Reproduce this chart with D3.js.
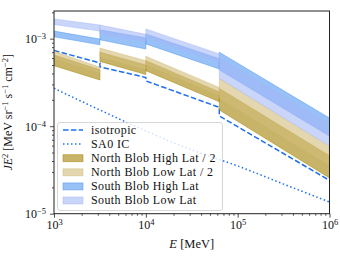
<!DOCTYPE html>
<html>
<head>
<meta charset="utf-8">
<script src="https://cdn.jsdelivr.net/npm/d3@7"></script>
<style>
body { margin: 0; background: #fff; }
svg text { font-family: "Liberation Serif", "DejaVu Serif", serif; fill: #111; }
</style>
</head>
<body>
<div id="chart"></div>
<script>
// energy bins [MeV]
var binLo = [1000, 3162, 10000, 63096];
var binHi = [3162, 10000, 63096, 1000000];

// band bounds per bin: [flux at bin start, flux at bin end]
var northHighUpper = [[6.5e-4, 4.4e-4], [7.0e-4, 5.0e-4], [5.6e-4, 2.46e-4], [2.7e-4, 4.6e-5]];
var northHighLower = [[4.9e-4, 3.37e-4], [5.5e-4, 3.9e-4], [4.3e-4, 1.9e-4], [1.53e-4, 2.56e-5]];
var northLowUpper = [[7.2e-4, 4.7e-4], [7.8e-4, 5.6e-4], [6.3e-4, 2.77e-4], [3.5e-4, 5.86e-5]];
var northLowLower = [[6.0e-4, 4.1e-4], [6.3e-4, 4.5e-4], [5.1e-4, 2.27e-4], [2.1e-4, 3.6e-5]];
var southHighUpper = [[1.22e-3, 9.9e-4], [1.26e-3, 1.02e-3], [1.13e-3, 5.9e-4], [7.0e-4, 1.24e-4]];
var southHighLower = [[1.05e-3, 8.5e-4], [9.7e-4, 7.6e-4], [8.7e-4, 4.5e-4], [4.4e-4, 7.7e-5]];
var southLowUpper = [[1.68e-3, 1.43e-3], [1.43e-3, 1.12e-3], [1.29e-3, 6.7e-4], [6.0e-4, 1.06e-4]];
var southLowLower = [[1.45e-3, 1.22e-3], [1.13e-3, 9.3e-4], [1.02e-3, 5.4e-4], [3.53e-4, 5.94e-5]];

// lines
var isoE = [1000, 3162, 3162, 10000, 10000, 63096, 63096, 1000000];
var isoFlux = [7.33e-4, 5.28e-4, 4.75e-4, 3.60e-4, 3.29e-4, 1.64e-4, 1.31e-4, 2.40e-5];
var sa0E = [1000, 3162, 10000, 31623, 100000, 316228, 1000000];
var sa0Flux = [2.71e-4, 1.53e-4, 8.81e-5, 5.35e-5, 3.51e-5, 2.18e-5, 1.36e-5];

var xTicks = [1e3, 1e4, 1e5, 1e6];
var yTicks = [1e-5, 1e-4, 1e-3];

var W = 340, H = 262;
var plot = { left: 54, right: 329.5, top: 11, bottom: 213.7 };
var serif = "Liberation Serif, DejaVu Serif, serif";

var svg = d3.select("#chart").append("svg")
    .attr("width", W)
    .attr("height", H)
    .attr("font-family", serif);

var x = d3.scaleLog().domain([1e3, 1e6]).range([plot.left, plot.right]);
var y = d3.scaleLog().domain([1e-5, 2.07e-3]).range([plot.bottom, plot.top]);

svg.append("clipPath").attr("id", "clip")
    .append("rect")
    .attr("x", plot.left).attr("y", plot.top)
    .attr("width", plot.right - plot.left)
    .attr("height", plot.bottom - plot.top);

var g = svg.append("g").attr("clip-path", "url(#clip)");

var bands = [
    { name: "North Blob High Lat / 2", up: northHighUpper, lo: northHighLower, color: "#a38205", op: 0.6 },
    { name: "North Blob Low Lat / 2", up: northLowUpper, lo: northLowLower, color: "#d2bc7a", op: 0.6 },
    { name: "South Blob High Lat", up: southHighUpper, lo: southHighLower, color: "#3a88f0", op: 0.52 },
    { name: "South Blob Low Lat", up: southLowUpper, lo: southLowLower, color: "#a3b7f7", op: 0.58 }
];

var poly = d3.line().x(d => x(d[0])).y(d => y(d[1]));

var lineColor = "#1e6ff0";

var line = d3.line().x(d => x(d[0])).y(d => y(d[1]));
var isoPts = isoE.map((e, i) => [e, isoFlux[i]]);
var sa0Pts = sa0E.map((e, i) => [e, sa0Flux[i]]);

g.append("path")
    .attr("d", line(isoPts))
    .attr("fill", "none")
    .attr("stroke", lineColor)
    .attr("stroke-width", 1.5)
    .attr("stroke-dasharray", "5.5,2.4");

g.append("path")
    .attr("d", line.curve(d3.curveMonotoneX)(sa0Pts))
    .attr("fill", "none")
    .attr("stroke", lineColor)
    .attr("stroke-width", 1.5)
    .attr("stroke-dasharray", "1.5,2.5");

bands.forEach(function (b) {
    binLo.forEach(function (e0, i) {
        var e1 = binHi[i];
        var pts = [[e0, b.up[i][0]], [e1, b.up[i][1]], [e1, b.lo[i][1]], [e0, b.lo[i][0]]];
        g.append("path")
            .attr("d", poly(pts) + "Z")
            .attr("fill", b.color)
            .attr("fill-opacity", b.op)
            .attr("stroke", b.color)
            .attr("stroke-opacity", b.op)
            .attr("stroke-width", 0.8);
    });
});

// axes
function supLabel(sel, exp) {
    sel.text(null);
    sel.append("tspan").text("10");
    sel.append("tspan").attr("dy", "-4").attr("font-size", "8.5px").text(exp);
}

function minorTicks(lo, hi) {
    var out = [];
    for (var p = lo; p < hi; p++) {
        for (var m = 2; m <= 9; m++) out.push(m * Math.pow(10, p));
    }
    return out;
}

var xMinor = minorTicks(3, 6);
var yMinor = minorTicks(-5, -2).filter(v => v <= 2.07e-3);

svg.append("g")
    .attr("transform", "translate(0," + plot.bottom + ")")
    .call(d3.axisBottom(x).tickValues(xMinor).tickSize(2).tickFormat(""))
    .call(a => a.select(".domain").remove());

svg.append("g")
    .attr("transform", "translate(" + plot.left + ",0)")
    .call(d3.axisLeft(y).tickValues(yMinor).tickSize(2).tickFormat(""))
    .call(a => a.select(".domain").remove());

var xAx = svg.append("g")
    .attr("transform", "translate(0," + plot.bottom + ")")
    .call(d3.axisBottom(x).tickValues(xTicks).tickSize(4).tickPadding(3));
xAx.select(".domain").remove();
xAx.attr("font-family", serif);
xAx.selectAll("text")
    .attr("font-size", "12px")
    .each(function (d) { supLabel(d3.select(this), String(Math.round(Math.log10(d)))); });

var yAx = svg.append("g")
    .attr("transform", "translate(" + plot.left + ",0)")
    .call(d3.axisLeft(y).tickValues(yTicks).tickSize(4).tickPadding(4));
yAx.select(".domain").remove();
yAx.attr("font-family", serif);
yAx.selectAll("text")
    .attr("font-size", "12px")
    .each(function (d) { supLabel(d3.select(this), "\u2212" + Math.round(-Math.log10(d))); });

svg.selectAll(".tick line").attr("stroke", "#222").attr("stroke-width", 0.8);

// frame
svg.append("rect")
    .attr("x", plot.left).attr("y", plot.top)
    .attr("width", plot.right - plot.left)
    .attr("height", plot.bottom - plot.top)
    .attr("fill", "none")
    .attr("stroke", "#222")
    .attr("stroke-width", 1);

// axis titles
svg.append("text")
    .attr("x", (plot.left + plot.right) / 2)
    .attr("y", 248)
    .attr("text-anchor", "middle")
    .attr("font-size", "12.5px")
    .call(t => {
        t.append("tspan").attr("font-style", "italic").text("E");
        t.append("tspan").text(" [MeV]");
    });

var yl = svg.append("text")
    .attr("transform", "translate(12," + ((plot.top + plot.bottom) / 2) + ") rotate(-90)")
    .attr("text-anchor", "middle")
    .attr("font-size", "12px");
[["JE", 0, true], ["2", 1], [" [MeV sr", 0], ["\u22121", 1], [" s", 0], ["\u22121", 1], [" cm", 0], ["\u22122", 1], ["]", 0]]
    .forEach(function (s, i, arr) {
        var prevSup = i > 0 && arr[i - 1][1] === 1;
        var ts = yl.append("tspan").text(s[0]);
        if (s[2]) ts.attr("font-style", "italic");
        if (s[1] === 1) ts.attr("dy", -4).attr("font-size", "8.5px");
        else if (prevSup) ts.attr("dy", 4);
    });

// legend
var leg = svg.append("g");
leg.append("rect")
    .attr("x", 57.5).attr("y", 122.5)
    .attr("width", 165).attr("height", 88)
    .attr("rx", 2.5)
    .attr("fill", "#fff").attr("fill-opacity", 0.8)
    .attr("stroke", "#ccc").attr("stroke-width", 0.8);

var rowY = d3.range(6).map(i => 130 + i * 14.1);
var hx0 = 63, hx1 = 83, tx = 91;

leg.append("line").attr("x1", hx0).attr("x2", hx1).attr("y1", rowY[0]).attr("y2", rowY[0])
    .attr("stroke", lineColor).attr("stroke-width", 1.5).attr("stroke-dasharray", "5.5,2.4");
leg.append("line").attr("x1", hx0).attr("x2", hx1).attr("y1", rowY[1]).attr("y2", rowY[1])
    .attr("stroke", lineColor).attr("stroke-width", 1.5).attr("stroke-dasharray", "1.5,2.5");

bands.forEach(function (b, i) {
    leg.append("rect")
        .attr("x", hx0).attr("y", rowY[i + 2] - 3.5)
        .attr("width", hx1 - hx0).attr("height", 7)
        .attr("fill", b.color).attr("fill-opacity", b.op)
        .attr("stroke", b.color).attr("stroke-opacity", b.op).attr("stroke-width", 0.8);
});

var labels = ["isotropic", "SA0 IC"].concat(bands.map(b => b.name));
labels.forEach(function (l, i) {
    leg.append("text")
        .attr("x", tx).attr("y", rowY[i] + 3.8)
        .attr("font-size", "12px")
        .attr("letter-spacing", "0.4px")
        .text(l);
});
</script>
</body>
</html>
